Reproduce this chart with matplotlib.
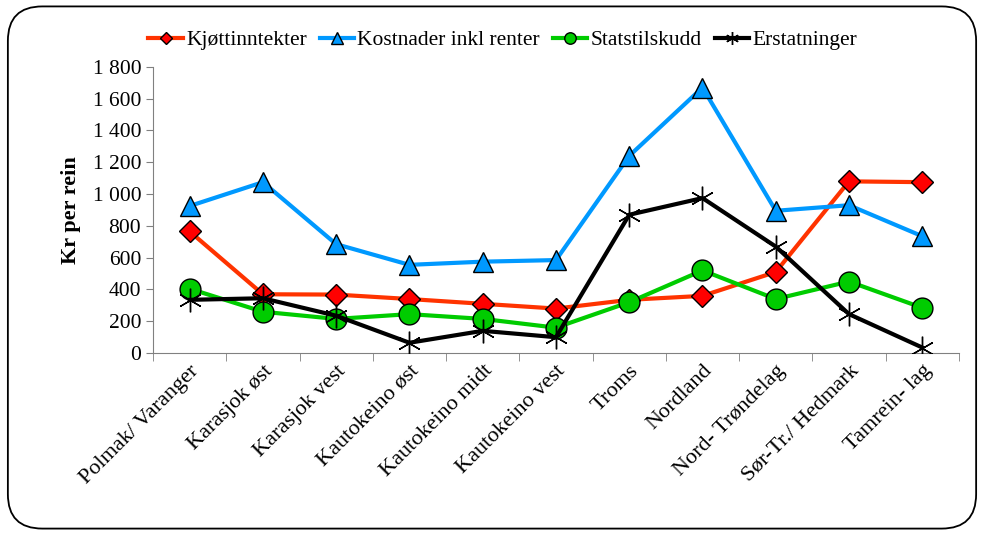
import matplotlib.pyplot as plt
import numpy as np
from matplotlib.patches import FancyBboxPatch
from matplotlib.ticker import FuncFormatter

plt.rcParams['font.family'] = ['Liberation Serif', 'DejaVu Serif']

omrader = ['Polmak/ Varanger', 'Karasjok øst', 'Karasjok vest', 'Kautokeino øst',
           'Kautokeino midt', 'Kautokeino vest', 'Troms', 'Nordland',
           'Nord- Trøndelag', 'Sør-Tr./ Hedmark', 'Tamrein- lag']
kjott = [765, 370, 368, 340, 310, 280, 335, 360, 510, 1080, 1075]
kostnader = [925, 1075, 685, 555, 575, 585, 1240, 1670, 895, 930, 735]
statstilskudd = [405, 260, 215, 245, 215, 160, 320, 520, 340, 450, 285]
erstatninger = [335, 345, 235, 65, 140, 100, 870, 975, 670, 245, 35]

fig = plt.figure(figsize=(9.84, 5.35), dpi=100)
ax = fig.add_axes([0.1555, 0.340, 0.819, 0.535])

# ramme med runde hjørner
fig.patches.append(FancyBboxPatch((0.008, 0.012), 0.984, 0.976,
                                  boxstyle='round,pad=0,rounding_size=0.035',
                                  transform=fig.transFigure, fill=False,
                                  edgecolor='black', linewidth=1.3,
                                  mutation_aspect=984/535))

x = np.arange(len(omrader))
ax.plot(x, kjott, color='#FF3300', lw=3, marker='D', ms=11,
        mfc='#FF0000', mec='black', mew=1, label='Kjøttinntekter', zorder=3)
ax.plot(x, kostnader, color='#0099FF', lw=3, marker='^', ms=15,
        mfc='#0099FF', mec='black', mew=1, label='Kostnader inkl renter', zorder=3)
ax.plot(x, statstilskudd, color='#00CC00', lw=3, marker='o', ms=15,
        mfc='#00CC00', mec='black', mew=1, label='Statstilskudd', zorder=3)
ax.plot(x, erstatninger, color='black', lw=3, marker=(6, 2, 0), ms=17,
        mec='black', mew=1, label='Erstatninger', zorder=4)

ax.set_xlim(-0.5, len(omrader) - 0.5)
ax.set_ylim(0, 1800)
ax.set_yticks(range(0, 1801, 200))
ax.yaxis.set_major_formatter(FuncFormatter(lambda v, p: f'{int(v):,}'.replace(',', ' ')))
ax.set_xticks(x)
ax.set_xticklabels(omrader, rotation=45, ha='right', rotation_mode='anchor', fontsize=16)
ax.set_xticks(np.arange(-0.5, len(omrader)), minor=True)
ax.tick_params(axis='x', which='major', length=0, pad=6)
ax.tick_params(axis='x', which='minor', length=6, color='#808080')
ax.tick_params(axis='y', length=5, color='#808080', labelsize=15.5)

for s in ['top', 'right']:
    ax.spines[s].set_visible(False)
for s in ['left', 'bottom']:
    ax.spines[s].set_color('#808080')

ax.set_ylabel('Kr per rein', fontsize=16, fontweight='bold', labelpad=8)

ax.legend(loc='lower center', bbox_to_anchor=(0.434, 0.99), ncol=4, frameon=False,
          fontsize=15.5, handlelength=1.6, handletextpad=0.15, columnspacing=0.6,
          markerscale=0.55)

fig.savefig('out.png', dpi=100)
